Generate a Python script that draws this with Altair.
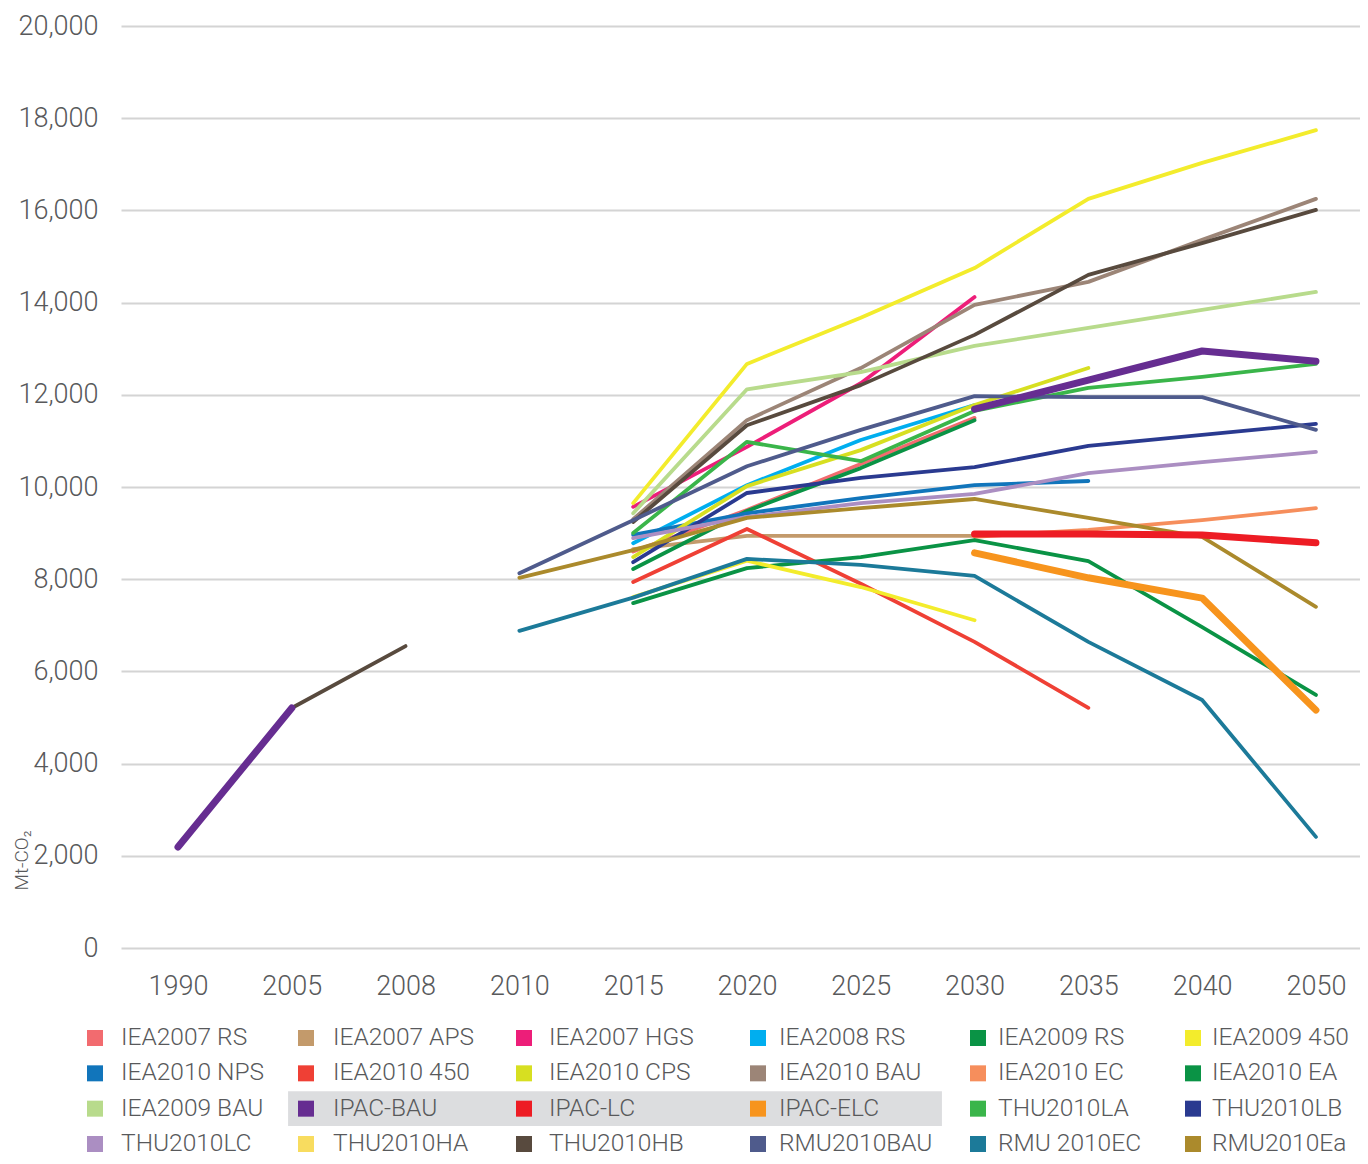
import altair as alt
import pandas as pd

years = ["1990", "2005", "2008", "2010", "2015", "2020", "2025", "2030", "2035", "2040", "2050"]

series_names = [
    "IEA2007 RS", "IEA2007 APS", "IEA2007 HGS", "IEA2008 RS", "IEA2009 RS", "IEA2009 450",
    "IEA2010 NPS", "IEA2010 450", "IEA2010 CPS", "IEA2010 BAU", "IEA2010 EC", "IEA2010 EA",
    "IEA2009 BAU", "IPAC-BAU", "IPAC-LC", "IPAC-ELC", "THU2010LA", "THU2010LB",
    "THU2010LC", "THU2010HA", "THU2010HB", "RMU2010BAU", "RMU 2010EC", "RMU2010Ea",
]

legend_colors = [
    "#f26b6f", "#c39a6b", "#ed1e79", "#00aeef", "#0a9345", "#f3ec2c",
    "#1175bb", "#ef4035", "#d7df21", "#9c8577", "#f68e5c", "#0a9345",
    "#b8db8c", "#662d91", "#ed1c24", "#f7941d", "#3ab54a", "#2a3a90",
    "#ab8ec2", "#f8dc5f", "#584a3e", "#4f5b8c", "#1c7a99", "#ab8a2c",
]

# colours of the drawn lines (THU2010HA is drawn in the same bright yellow as in the picture)
line_colors = list(legend_colors)
line_colors[series_names.index("THU2010HA")] = "#f3ec2c"

N = None
iea2007_rs   = [N, N, N, N, 8600, 9500, 10500, 11500, N, N, N]
iea2007_aps  = [N, N, N, N, 8650, 8940, 8940, 8940, N, N, N]
iea2007_hgs  = [N, N, N, N, 9570, 10870, 12250, 14120, N, N, N]
iea2008_rs   = [N, N, N, N, 8780, 10040, 11020, 11780, N, N, N]
iea2009_rs   = [N, N, N, N, 8220, 9480, 10410, 11450, N, N, N]
iea2009_450  = [N, N, N, N, 9650, 12670, 13670, 14750, 16250, 17030, 17740]
iea2010_nps  = [N, N, N, N, 8960, 9430, 9760, 10040, 10130, N, N]
iea2010_450  = [N, N, N, N, 7940, 9090, 7900, 6640, 5210, N, N]
iea2010_cps  = [N, N, N, N, 8480, 10020, 10800, 11780, 12580, N, N]
iea2010_bau  = [N, N, N, N, 9300, 11450, 12580, 13950, 14450, 15360, 16250]
iea2010_ec   = [N, N, N, N, N, N, N, 8920, 9070, 9280, 9540]
iea2010_ea   = [N, N, N, N, 7480, 8240, 8480, 8850, 8390, 6960, 5490]
iea2009_bau  = [N, N, N, N, 9430, 12120, 12490, 13060, 13450, 13840, 14230]
ipac_bau     = [2190, 5206, N, N, N, N, N, 11690, 12320, 12950, 12730]
ipac_lc      = [N, N, N, N, N, N, N, 8980, 8980, 8960, 8790]
ipac_elc     = [N, N, N, N, N, N, N, 8570, 8030, 7590, 5160]
thu2010_la   = [N, N, N, N, 9000, 10980, 10560, 11650, 12150, 12390, 12670]
thu2010_lb   = [N, N, N, N, 8370, 9870, 10200, 10430, 10890, 11130, 11370]
thu2010_lc   = [N, N, N, N, 8890, 9350, 9650, 9850, 10300, 10540, 10760]
thu2010_ha   = [N, N, N, N, 7610, 8400, 7830, 7110, N, N, N]
thu2010_hb   = [N, 5206, 6550, N, 9240, 11340, 12210, 13300, 14600, 15290, 16010]
rmu2010_bau  = [N, N, N, 8130, 9280, 10450, 11240, 11970, 11950, 11950, 11240]
rmu2010_ec   = [N, N, N, 6880, 7600, 8440, 8310, 8070, 6640, 5380, 2410]
rmu2010_ea   = [N, N, N, 8030, 8630, 9330, 9540, 9740, 9330, 8920, 7400]

series_values = [
    iea2007_rs, iea2007_aps, iea2007_hgs, iea2008_rs, iea2009_rs, iea2009_450,
    iea2010_nps, iea2010_450, iea2010_cps, iea2010_bau, iea2010_ec, iea2010_ea,
    iea2009_bau, ipac_bau, ipac_lc, ipac_elc, thu2010_la, thu2010_lb,
    thu2010_lc, thu2010_ha, thu2010_hb, rmu2010_bau, rmu2010_ec, rmu2010_ea,
]

thick_series = ["IPAC-BAU", "IPAC-LC", "IPAC-ELC"]
y_ticks = [0, 2000, 4000, 6000, 8000, 10000, 12000, 14000, 16000, 18000, 20000]

legend_columns = 6
highlight_entries = ["IPAC-BAU", "IPAC-LC", "IPAC-ELC"]

# ---- build tables ----
rows = []
for order, (name, vals) in enumerate(zip(series_names, series_values)):
    seg = 0
    for yr, v in zip(years, vals):
        if v is None:
            seg += 1
            continue
        rows.append({"series": name, "seg": f"{name}-{seg}", "year": yr, "value": v,
                     "order": order, "thick": name in thick_series})
df = pd.DataFrame(rows)

leg = pd.DataFrame({
    "series": series_names,
    "swatch": legend_colors,
    "col": [i % legend_columns for i in range(len(series_names))],
    "row": [i // legend_columns for i in range(len(series_names))],
})
hl_idx = [series_names.index(s) for s in highlight_entries]
hl = pd.DataFrame([{
    "x": min(leg.loc[hl_idx, "col"]) - 0.085,
    "x2": max(leg.loc[hl_idx, "col"]) + 0.836,
    "y": leg.loc[hl_idx[0], "row"] - 0.49,
    "y2": leg.loc[hl_idx[0], "row"] + 0.49,
}])

FONT = "Roboto"
TXT = "#58595b"
W, H = 1239, 922

color_scale = alt.Scale(domain=series_names, range=line_colors)
x_scale = alt.Scale(type="point", domain=years, padding=0.444, align=0.564)
y_scale = alt.Scale(domain=[0, 20000], nice=False)

x_enc = alt.X("year:O", scale=x_scale,
              axis=alt.Axis(title=None, labelAngle=0, domain=False, ticks=False,
                            labelPadding=25, labelFontSize=27, labelFont=FONT,
                            labelFontWeight=300, labelColor=TXT, grid=False))
y_enc = alt.Y("value:Q", scale=y_scale,
              axis=alt.Axis(title="Mt-CO₂", values=y_ticks, format=",d",
                            domain=False, ticks=False, labelPadding=23,
                            labelFontSize=27, labelFont=FONT, labelFontWeight=300,
                            labelColor=TXT, gridColor="#d4d4d4", gridWidth=2,
                            titleFont=FONT, titleFontWeight=300, titleFontSize=19,
                            titleColor=TXT, titleAngle=-90, titleAlign="center",
                            titleBaseline="alphabetic", titleX=-94, titleY=834))

base = alt.Chart(df)
thin_lines = base.transform_filter(alt.datum.thick == False).mark_line(
    strokeWidth=3.8, strokeCap="round", strokeJoin="round"
).encode(
    x=x_enc, y=y_enc,
    color=alt.Color("series:N", scale=color_scale, legend=None),
    detail="seg:N",
)
thick_lines = base.transform_filter(alt.datum.thick == True).mark_line(
    strokeWidth=7, strokeCap="round", strokeJoin="round"
).encode(
    x=alt.X("year:O", scale=x_scale, axis=None),
    y=alt.Y("value:Q", scale=y_scale, axis=None),
    color=alt.Color("series:N", scale=color_scale, legend=None),
    detail="seg:N",
)

# legend drawn as marks below the plot
lx = alt.Scale(domain=[0, 1, 2, 3, 4, 5], range=[-26, 185, 403, 637, 857, 1072])
lx_text = alt.Scale(domain=[0, 1, 2, 3, 4, 5], range=[0, 212, 428, 658, 877, 1091])
ly = alt.Scale(domain=[0, 3], range=[1012, 1118])

hl_rect = alt.Chart(hl).mark_rect(color="#dcdddf").encode(
    x=alt.X("x:Q", scale=lx, axis=None), x2="x2:Q",
    y=alt.Y("y:Q", scale=ly, axis=None), y2="y2:Q",
)
swatches = alt.Chart(leg).mark_square(size=256, opacity=1, filled=True).encode(
    x=alt.X("col:Q", scale=lx, axis=None),
    y=alt.Y("row:Q", scale=ly, axis=None),
    fill=alt.Fill("swatch:N", scale=None),
)
labels = alt.Chart(leg).mark_text(
    align="left", baseline="middle", fontSize=24.5, font=FONT,
    fontWeight=300, color=TXT
).encode(
    x=alt.X("col:Q", scale=lx_text, axis=None),
    y=alt.Y("row:Q", scale=ly, axis=None),
    text="series:N",
)

chart = alt.layer(thin_lines, thick_lines, hl_rect, swatches, labels).resolve_scale(
    x="independent", y="independent"
).properties(
    width=W, height=H,
    autosize=alt.AutoSizeParams(type="none"),
    padding={"left": 113, "top": 18, "right": 0, "bottom": 208},
).configure_view(stroke=None)

chart.save("out.html", embed_options={"renderer": "svg", "actions": False})
